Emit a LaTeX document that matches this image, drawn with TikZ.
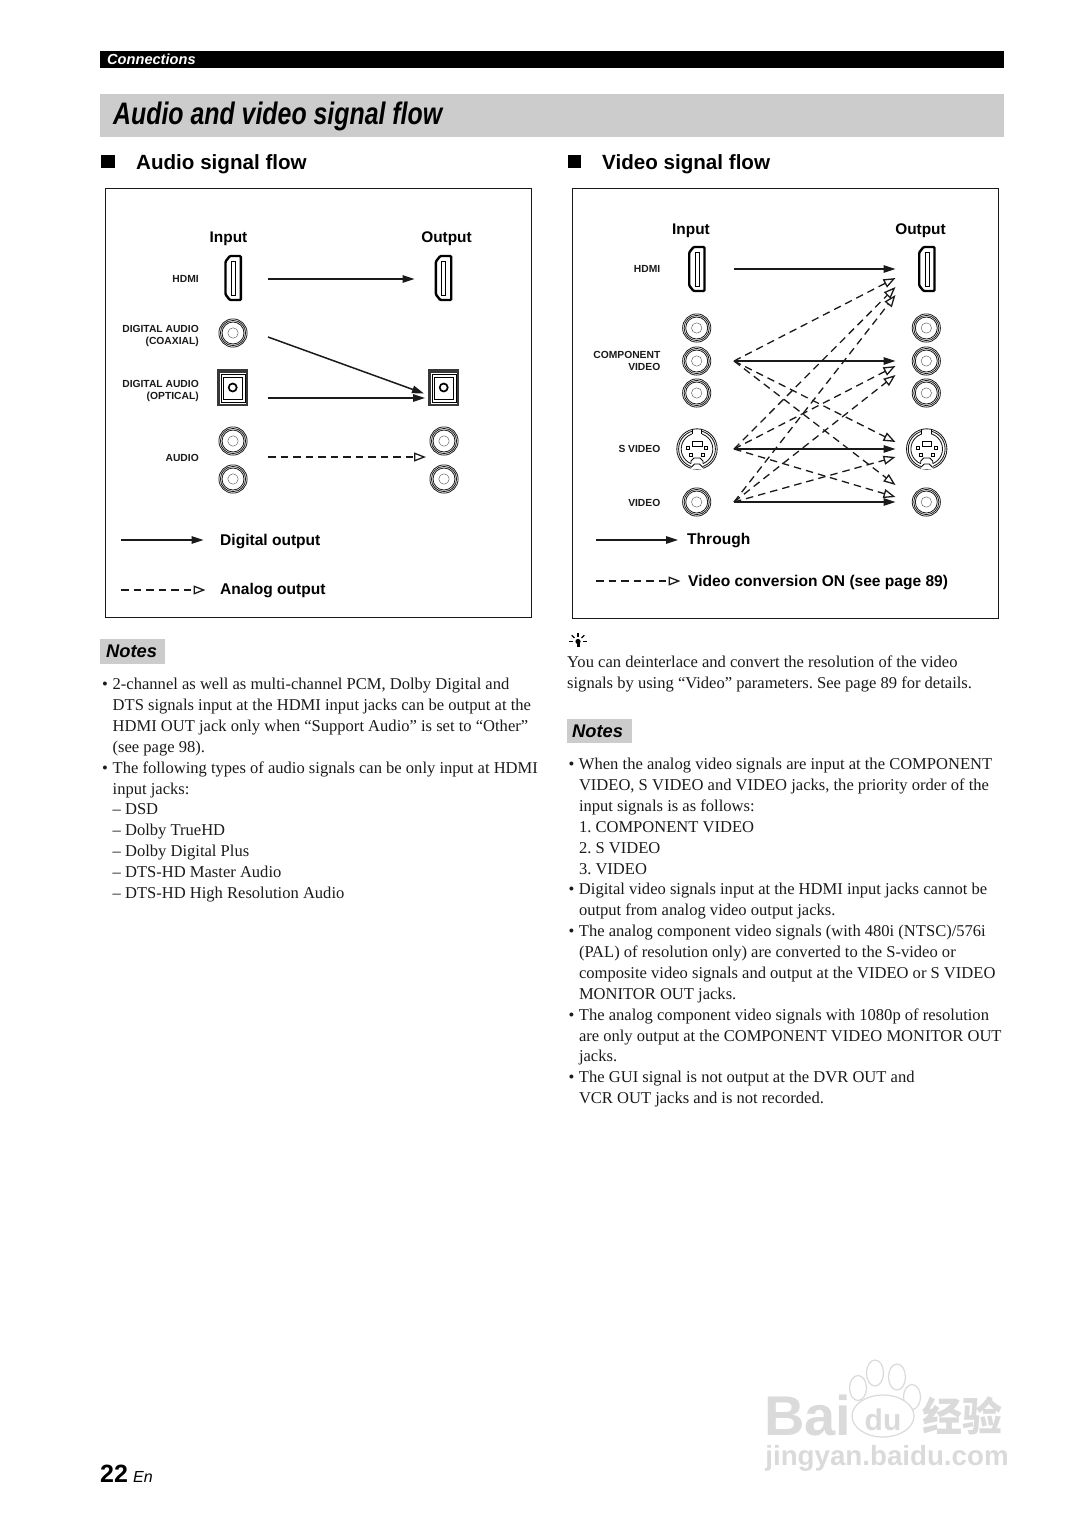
\documentclass[tikz,border=0pt]{standalone}
\usepackage{xcolor}
\usepackage{fontspec}
\setmainfont{Liberation Serif}
\setsansfont{Liberation Sans}
\newfontfamily\headfont[FakeStretch=0.8]{Liberation Sans}
\newfontfamily\cjk{Noto Sans CJK SC}
\usetikzlibrary{arrows.meta, positioning}

\definecolor{bandgrey}{HTML}{CCCCCC}
\definecolor{inkgrey}{HTML}{1A1A1A}
\definecolor{markgrey}{HTML}{DADADA}

\newcommand{\bull}{\makebox[10.5pt][l]{•}}
\newcommand{\cont}{\makebox[10.5pt]{}}

\tikzset{
  digital/.style={-{Triangle[length=12pt,width=7.5pt]}, line width=1.5pt, inkgrey},
  analog/.style={-{Triangle[open,length=12pt,width=9pt]}, line width=1.3pt, inkgrey, dash pattern=on 7.5pt off 5pt},
  panel/.style={draw=inkgrey, line width=.8pt},
  portlabel/.style={anchor=east, align=right, inner sep=0pt, font=\sffamily\bfseries\fontsize{10.3}{12}\selectfont, inkgrey},
  headlabel/.style={inner sep=0pt, font=\sffamily\bfseries\fontsize{15.4}{18}\selectfont},
  legendlabel/.style={anchor=west, inner sep=0pt, font=\sffamily\bfseries\fontsize{15.55}{18}\selectfont},
  sectionlabel/.style={anchor=west, inner sep=0pt, font=\sffamily\bfseries\fontsize{20.6}{24}\selectfont},
  notesbox/.style={anchor=west, fill=bandgrey, minimum width=65pt, minimum height=24.5pt, inner sep=0pt, font=\sffamily\bfseries\itshape\fontsize{18.3}{20}\selectfont},
  bodytext/.style={anchor=north west, align=left, inner sep=0pt, font=\frenchspacing\fontsize{16.55}{20.87}\selectfont, inkgrey},
  markpaw/.style={fill=white, draw=markgrey, line width=1.2pt},
  marktext/.style={inner sep=0pt, text=markgrey, font=\sffamily\bfseries},
  pics/hdmijack/.style={code={
    \draw[line width=2.4pt, rounded corners=1pt, fill=white] (-7.8,-16.5) -- (-3.5,-22) -- (7.5,-22) -- (7.5,22) -- (-3.5,22) -- (-7.8,16.5) -- cycle;
    \draw[line width=.9pt] (-2,-17) rectangle (2,17);
  }},
  pics/rcajack/.style={code={
    \foreach \r in {14.1,12.6,11} \draw[line width=.8pt, inkgrey] (0,0) circle (\r pt);
    \draw[line width=.4pt, black!70] (0,0) circle (5.2pt);
  }},
  pics/opticaljack/.style={code={
    \fill[black!78] (-15.7,-18.3) rectangle (15.7,18.3);
    \fill[white] (-12.5,-14.5) rectangle (13.5,16);
    \draw[line width=.9pt] (-11.5,-13) rectangle (12.5,15);
    \draw[line width=1.4pt] (-9,-10) rectangle (10,12);
    \draw[line width=1.7pt] (0,0) circle (4pt);
  }},
  pics/svideojack/.style={code={
    \foreach \r in {20.2,18.4,15.8} \draw[line width=.85pt, inkgrey] (0,0) circle (\r pt);
    % notches in the rings
    \fill[white] (-4.6,-19) rectangle (4.6,-14);
    \draw[line width=.85pt] (-4.8,-19.6) -- (-4.8,-14.6) (4.8,-19.6) -- (4.8,-14.6);
    \fill[white] (-6,9) rectangle (6,19.5);
    \draw[line width=.85pt] (-6,14.6) -- (-6,12) -- (-3,9) -- (3,9) -- (6,12) -- (6,14.6);
    \draw[line width=.85pt] (-6,18.4) -- (-2.5,15) -- (2.5,15) -- (6,18.4);
    \draw[line width=1pt] (-4.7,-8) rectangle (5,-3);
    \foreach \px/\py in {-9/-1.5,9/-1.5,-5.8/6,6/6} \draw[line width=.8pt] (\px-1.4,\py-1.4) rectangle (\px+1.4,\py+1.4);
  }}
}

\begin{document}
\begin{tikzpicture}[x=1pt, y=-1pt]
  \useasboundingbox (0,0) rectangle (1075,1519);

  % page head
  \fill[black] (100,51) rectangle (1004,68);
  \node[anchor=west, inner sep=0pt, text=white, font=\sffamily\bfseries\itshape\fontsize{14.6}{16}\selectfont] (connections) at (107,59) {Connections};
  \fill[bandgrey] (100,94) rectangle (1004,137);
  \node[anchor=west, inner sep=0pt, font=\headfont\bfseries\itshape\fontsize{31.1}{34}\selectfont] (title) at (113,116) {Audio and video signal flow};

  \fill[black] (101,155) rectangle (115,168);
  \node[sectionlabel] (audiohead) at (136,164) {Audio signal flow};
  \fill[black] (568,155) rectangle (581,168);
  \node[sectionlabel] (videohead) at (602,164) {Video signal flow};

  % audio panel
  \draw[panel] (105.5,188) rectangle (531,617.5);
  \node[headlabel] (ainput) at (228.5,239) {Input};
  \node[headlabel] (aoutput) at (446.5,239) {Output};
  \node[portlabel] (ahdmi) at (199,278.5) {HDMI};
  \node[portlabel] (acoax) at (199,335.5) {DIGITAL AUDIO\\(COAXIAL)};
  \node[portlabel] (aopt) at (199,390.5) {DIGITAL AUDIO\\(OPTICAL)};
  \node[portlabel] (aaudio) at (199,457.5) {AUDIO};

  \pic at (233.3,278) {hdmijack};
  \pic at (443.7,278) {hdmijack};
  \pic at (233,333) {rcajack};
  \pic at (232.7,387.5) {opticaljack};
  \pic at (443.7,387.5) {opticaljack};
  \pic at (233,441) {rcajack};
  \pic at (233,479) {rcajack};
  \pic at (444,441) {rcajack};
  \pic at (444,479) {rcajack};

  \coordinate (ahdmiin) at (268,279);
  \coordinate (ahdmiout) at (414.5,279);
  \coordinate (acoaxin) at (268,337);
  \coordinate (acoaxout) at (424,393.5);
  \coordinate (aoptin) at (268,398);
  \coordinate (aoptout) at (425,398);
  \coordinate (aaudioin) at (268,457);
  \coordinate (aaudioout) at (426,457);
  \path[digital]
    (ahdmiin) edge (ahdmiout)
    (acoaxin) edge (acoaxout)
    (aoptin) edge (aoptout);
  \path[analog] (aaudioin) edge (aaudioout);

  \coordinate (alegenda) at (121,540);
  \coordinate (alegendb) at (203.5,540);
  \coordinate (alegendc) at (121,590);
  \coordinate (alegendd) at (205.5,590);
  \path[digital] (alegenda) edge (alegendb);
  \path[analog] (alegendc) edge (alegendd);
  \node[legendlabel] (digitallabel) at (220,541.5) {Digital output};
  \node[legendlabel] (analoglabel) at (220,590.5) {Analog output};

  % video panel
  \draw[panel] (572.5,188) rectangle (998,618);
  \node[headlabel] (vinput) at (691,231) {Input};
  \node[headlabel] (voutput) at (920.5,231) {Output};
  \node[portlabel] (vhdmi) at (660.5,268.5) {HDMI};
  \node[portlabel] (vcomp) at (660.5,360.5) {COMPONENT\\VIDEO};
  \node[portlabel] (vsvideo) at (660.5,448.5) {S VIDEO};
  \node[portlabel] (vvideo) at (660.5,503) {VIDEO};

  \pic at (697,269) {hdmijack};
  \pic at (927,269) {hdmijack};
  \foreach \jy in {328,361,393} {
    \pic at (696.7,\jy) {rcajack};
    \pic at (926.3,\jy) {rcajack};
  }
  \pic at (697,449) {svideojack};
  \pic at (926.7,449) {svideojack};
  \pic at (696.7,502) {rcajack};
  \pic at (926.3,502) {rcajack};

  \coordinate (vhdmiin) at (734,269);
  \coordinate (vcompin) at (734,361);
  \coordinate (vsin) at (734,449);
  \coordinate (vvidin) at (734,502);
  \coordinate (vhdmiout) at (895.5,269);
  \coordinate (vcompout) at (895.5,361);
  \coordinate (vsout) at (895.5,449);
  \coordinate (vvidout) at (895.5,502);
  \coordinate (hdmia) at (895.5,278);
  \coordinate (hdmib) at (895.5,287);
  \coordinate (hdmic) at (895.5,295);
  \coordinate (compa) at (895.5,366);
  \coordinate (compb) at (895.5,375);
  \coordinate (sa) at (895.5,442);
  \coordinate (sb) at (895.5,457);
  \coordinate (vida) at (895.5,485);
  \coordinate (vidb) at (895.5,497);
  \path[analog]
    (vcompin) edge (hdmia)
    (vsin) edge (hdmib)
    (vvidin) edge (hdmic)
    (vsin) edge (compa)
    (vvidin) edge (compb)
    (vcompin) edge (sa)
    (vvidin) edge (sb)
    (vcompin) edge (vida)
    (vsin) edge (vidb);
  \path[digital]
    (vhdmiin) edge (vhdmiout)
    (vcompin) edge (vcompout)
    (vsin) edge (vsout)
    (vvidin) edge (vvidout);

  \coordinate (vlegenda) at (596,540);
  \coordinate (vlegendb) at (678,540);
  \coordinate (vlegendc) at (596,581);
  \coordinate (vlegendd) at (680.5,581);
  \path[digital] (vlegenda) edge (vlegendb);
  \path[analog] (vlegendc) edge (vlegendd);
  \node[legendlabel] (throughlabel) at (687,540.5) {Through};
  \node[legendlabel] (convlabel) at (688,582.5) {Video conversion ON (see page 89)};

  % left notes
  \node[notesbox, text width=58pt] (notesleft) at (100,651.5) {\hspace*{2.5pt}Notes};
  \node[bodytext] (leftbody) at (102,678) {%
    \bull 2-channel as well as multi-channel PCM, Dolby Digital and\\
    \cont DTS signals input at the HDMI input jacks can be output at the\\
    \cont HDMI OUT jack only when “Support Audio” is set to “Other”\\
    \cont (see page 98).\\
    \bull The following types of audio signals can be only input at HDMI\\
    \cont input jacks:\\
    \cont – DSD\\
    \cont – Dolby TrueHD\\
    \cont – Dolby Digital Plus\\
    \cont – DTS-HD Master Audio\\
    \cont – DTS-HD High Resolution Audio};

  % hint
  \fill[black] (578,641.5) circle (2.6pt);
  \fill[black] (576.5,642) rectangle (579.5,647);
  \foreach \ang in {-180,-135,-90,-45,0} \draw[line width=1.1pt] (578,641.5) ++(\ang:5) -- ++(\ang:4);
  \node[bodytext] (hintbody) at (567,656) {%
    You can deinterlace and convert the resolution of the video\\
    signals by using “Video” parameters. See page 89 for details.};

  % right notes
  \node[notesbox, text width=59pt] (notesright) at (567,731) {\hspace*{2pt}Notes};
  \node[bodytext] (rightbody) at (568.3,758) {%
    \bull When the analog video signals are input at the COMPONENT\\
    \cont VIDEO, S VIDEO and VIDEO jacks, the priority order of the\\
    \cont input signals is as follows:\\
    \cont 1. COMPONENT VIDEO\\
    \cont 2. S VIDEO\\
    \cont 3. VIDEO\\
    \bull Digital video signals input at the HDMI input jacks cannot be\\
    \cont output from analog video output jacks.\\
    \bull The analog component video signals (with 480i (NTSC)/576i\\
    \cont (PAL) of resolution only) are converted to the S-video or\\
    \cont composite video signals and output at the VIDEO or S VIDEO\\
    \cont MONITOR OUT jacks.\\
    \bull The analog component video signals with 1080p of resolution\\
    \cont are only output at the COMPONENT VIDEO MONITOR OUT\\
    \cont jacks.\\
    \bull The GUI signal is not output at the DVR OUT and\\
    \cont VCR OUT jacks and is not recorded.};

  % page number
  \node[anchor=base west, inner sep=0pt, font=\sffamily\bfseries\fontsize{25}{28}\selectfont] (pagenum) at (100,1482) {22};
  \node[anchor=base west, inner sep=0pt, font=\sffamily\itshape\fontsize{16}{18}\selectfont] (pagelang) at (133,1482) {En};

  % watermark
  \node[marktext, anchor=base west, font=\sffamily\bfseries\fontsize{56}{60}\selectfont] (markbai) at (764,1435) {Bai};
  \draw[markpaw] (858,1388) ellipse (8.5pt and 12.5pt);
  \draw[markpaw] (875,1373) ellipse (8.5pt and 13pt);
  \draw[markpaw] (897,1377) ellipse (8.5pt and 13pt);
  \draw[markpaw] (912,1397) ellipse (8.5pt and 12.5pt);
  \draw[markpaw] (883,1416) ellipse (31pt and 21pt);
  \node[marktext, font=\sffamily\bfseries\fontsize{30}{32}\selectfont] (markdu) at (883,1420) {du};
  \node[marktext, font=\cjk\bfseries\fontsize{40}{44}\selectfont] (markjy) at (962,1416) {经验};
  \node[marktext, font=\sffamily\bfseries\fontsize{27.7}{32}\selectfont] (markurl) at (887,1458) {jingyan.baidu.com};
\end{tikzpicture}
\end{document}
